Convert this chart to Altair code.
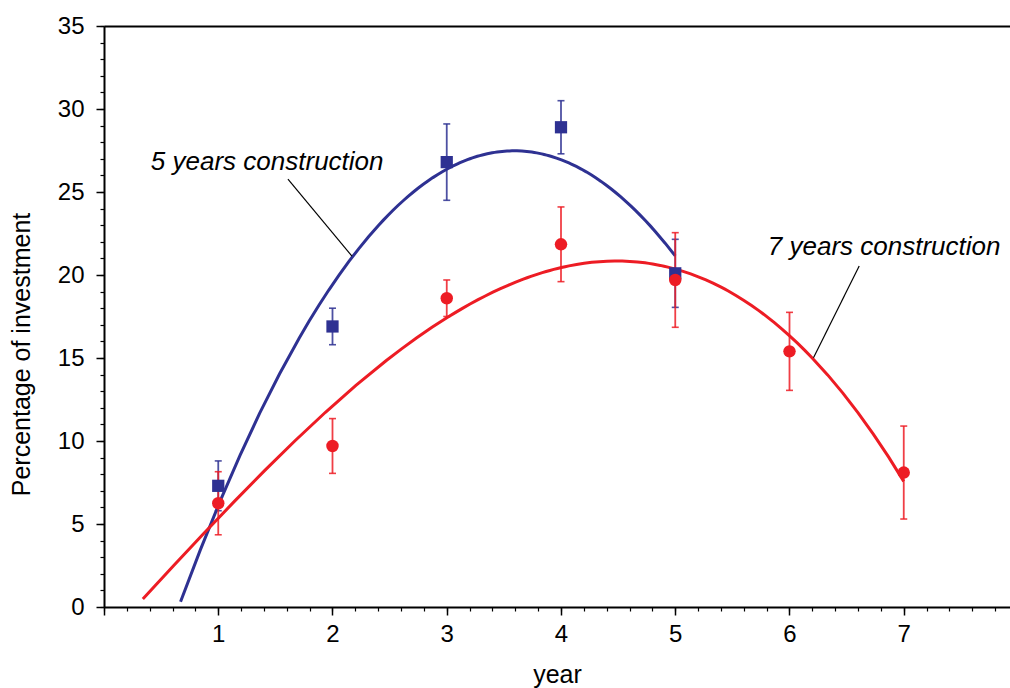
import altair as alt
import pandas as pd

# Share of total investment spent in each year of construction (mean ± spread)
years_5 = [1, 2, 3, 4, 5]
share_5 = [7.3, 16.9, 26.8, 28.9, 20.1]
err_5 = [1.5, 1.1, 2.3, 1.6, 2.05]

years_7 = [1, 2, 3, 4, 5, 6, 7]
share_7 = [6.25, 9.7, 18.6, 21.85, 19.7, 15.4, 8.1]
err_7 = [1.9, 1.65, 1.1, 2.25, 2.85, 2.35, 2.8]

x_ticks = [0, 1, 2, 3, 4, 5, 6, 7]
y_ticks = [0, 5, 10, 15, 20, 25, 30, 35]
x_minor = [round(i * 0.2, 1) for i in range(40)]
y_minor = list(range(36))

# Callout labels with their leader lines (x, y, x2, y2 in data units)
labels = ["5 years construction", "7 years construction"]
label_x = [0.41, 5.81]
label_y = [26.33, 21.19]
leader_x = [1.61, 6.61]
leader_y = [25.77, 20.54]
leader_x2 = [2.17, 6.21]
leader_y2 = [21.14, 15.02]

BLUE = "#2E3192"
RED = "#ED1C24"
FONT = "Liberation Sans"
W, H = 906, 581

df5 = pd.DataFrame({"year": years_5, "share": share_5, "err": err_5})
df5["lo"] = df5["share"] - df5["err"]
df5["hi"] = df5["share"] + df5["err"]
df7 = pd.DataFrame({"year": years_7, "share": share_7, "err": err_7})
df7["lo"] = df7["share"] - df7["err"]
df7["hi"] = df7["share"] + df7["err"]
ann = pd.DataFrame({"label": labels, "x": label_x, "y": label_y,
                    "lx": leader_x, "ly": leader_y, "lx2": leader_x2, "ly2": leader_y2})

xs = alt.Scale(domain=[0, 7.93], nice=False, zero=False)
ys = alt.Scale(domain=[0, 35], nice=False)

common_axis = dict(grid=False, tickColor="black", domainColor="black",
                   labelFont=FONT, labelColor="black", titleFont=FONT,
                   titleColor="black", titleFontWeight="normal")

x_major = alt.Axis(values=x_ticks, orient="bottom", title="year", tickSize=8,
                   tickWidth=1.5, domainWidth=2, labelFontSize=24, labelPadding=7,
                   labelExpr="datum.value == 0 ? '' : datum.label",
                   titleFontSize=25, titlePadding=16, **common_axis)
y_major = alt.Axis(values=y_ticks, orient="left", title="Percentage of investment",
                   tickSize=8, tickWidth=1.5, domainWidth=2, labelFontSize=24,
                   labelPadding=12, titleFontSize=25, titleX=-75, titleY=328,
                   titleBaseline="alphabetic", **common_axis)
x_min_axis = alt.Axis(values=x_minor, orient="bottom", title=None, labels=False,
                      domain=False, tickSize=4, tickWidth=1.2, **common_axis)
y_min_axis = alt.Axis(values=y_minor, orient="left", title=None, labels=False,
                      domain=False, tickSize=4, tickWidth=1.2, **common_axis)
x_top = alt.Axis(orient="top", title=None, labels=False, ticks=False,
                 domainWidth=2, **common_axis)

blue_curve = alt.Chart(df5).transform_regression(
    "year", "share", method="poly", order=2, extent=[0.67, 5]
).mark_line(color=BLUE, strokeWidth=3).encode(
    x=alt.X("year:Q", scale=xs, axis=x_major),
    y=alt.Y("share:Q", scale=ys, axis=y_major),
)

red_curve = alt.Chart(df7).transform_regression(
    "year", "share", method="poly", order=3, extent=[0.34, 7]
).mark_line(color=RED, strokeWidth=3).encode(
    x=alt.X("year:Q", scale=xs, axis=x_min_axis),
    y=alt.Y("share:Q", scale=ys, axis=y_min_axis),
)


def error_bars(df, color, top_axis=None):
    base = alt.Chart(df)
    rule = base.mark_rule(color=color, strokeWidth=1.8, opacity=0.85).encode(
        x=alt.X("year:Q", scale=xs, axis=top_axis),
        y=alt.Y("lo:Q", scale=ys, axis=None),
        y2="hi:Q",
    )
    cap_lo = base.mark_tick(color=color, orient="horizontal", size=7,
                            thickness=1.6, opacity=0.85).encode(
        x=alt.X("year:Q", scale=xs, axis=None),
        y=alt.Y("lo:Q", scale=ys, axis=None),
    )
    cap_hi = base.mark_tick(color=color, orient="horizontal", size=7,
                            thickness=1.6, opacity=0.85).encode(
        x=alt.X("year:Q", scale=xs, axis=None),
        y=alt.Y("hi:Q", scale=ys, axis=None),
    )
    return [rule, cap_lo, cap_hi]


squares = alt.Chart(df5).mark_point(shape="square", filled=True, size=150,
                                    color=BLUE, opacity=1).encode(
    x=alt.X("year:Q", scale=xs, axis=None),
    y=alt.Y("share:Q", scale=ys, axis=None),
)
circles = alt.Chart(df7).mark_point(shape="circle", filled=True, size=155,
                                    color=RED, opacity=1).encode(
    x=alt.X("year:Q", scale=xs, axis=None),
    y=alt.Y("share:Q", scale=ys, axis=None),
)

leaders = alt.Chart(ann).mark_rule(color="black", strokeWidth=1.2).encode(
    x=alt.X("lx:Q", scale=xs, axis=None),
    y=alt.Y("ly:Q", scale=ys, axis=None),
    x2="lx2:Q",
    y2="ly2:Q",
)
texts = alt.Chart(ann).mark_text(font=FONT, fontSize=26, fontStyle="italic",
                                 align="left", baseline="alphabetic",
                                 color="black").encode(
    x=alt.X("x:Q", scale=xs, axis=None),
    y=alt.Y("y:Q", scale=ys, axis=None),
    text="label:N",
)

layers = ([blue_curve, red_curve]
          + error_bars(df5, BLUE, top_axis=x_top)
          + error_bars(df7, RED)
          + [squares, circles, leaders, texts])

chart = alt.layer(*layers).resolve_axis(
    x="independent", y="independent"
).resolve_scale(
    x="shared", y="shared"
).properties(
    width=W, height=H,
    autosize=alt.AutoSizeParams(type="none"),
    padding={"left": 104, "top": 26, "right": 0, "bottom": 81},
).configure_view(stroke=None).configure(background="white")

chart.save("out.html", embed_options={"renderer": "svg", "actions": False})
